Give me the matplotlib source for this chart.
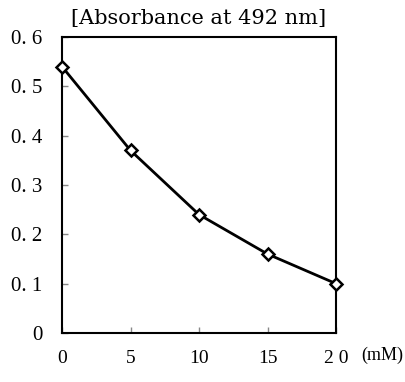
import matplotlib
matplotlib.use("Agg")
import matplotlib.pyplot as plt

# --- Data --------------------------------------------------------------------
conc_mM = [0, 5, 10, 15, 20]
absorbance = [0.54, 0.37, 0.24, 0.16, 0.10]

x_ticks = [0, 5, 10, 15, 20]
x_tick_labels = ["0", "5", "10", "15", "2 0"]
y_ticks = [0, 0.1, 0.2, 0.3, 0.4, 0.5, 0.6]
y_tick_labels = ["0", "0. 1", "0. 2", "0. 3", "0. 4", "0. 5", "0. 6"]

TITLE = "[Absorbance at 492 nm]"
UNIT = "(mM)"

# --- Plot --------------------------------------------------------------------
plt.rcParams["font.family"] = ["Liberation Serif", "DejaVu Serif"]

fig = plt.figure(figsize=(4.06, 3.82), dpi=100)
ax = fig.add_axes([0.1527, 0.1283, 0.675, 0.7749])

ax.plot(conc_mM, absorbance, color="black", lw=2, marker="D", ms=6,
        mfc="white", mec="black", mew=1.8, clip_on=False, zorder=3)

ax.set_xlim(0, 20)
ax.set_ylim(0, 0.6)
ax.set_xticks(x_ticks)
ax.set_xticklabels(x_tick_labels, fontsize=14)
ax.set_yticks(y_ticks)
ax.set_yticklabels(y_tick_labels, fontsize=15)
ax.tick_params(direction="in", length=4, width=1, color="#888888")
ax.tick_params(axis="x", pad=12)
ax.tick_params(axis="y", pad=14)

for sp in ax.spines.values():
    sp.set_linewidth(1.5)
    sp.set_color("black")

ax.set_title(TITLE, fontsize=15, pad=9, family="DejaVu Serif")
ax.text(1.17, -0.074, UNIT, transform=ax.transAxes, fontsize=13,
        ha="center", va="center")

fig.savefig("out.png", dpi=100)
